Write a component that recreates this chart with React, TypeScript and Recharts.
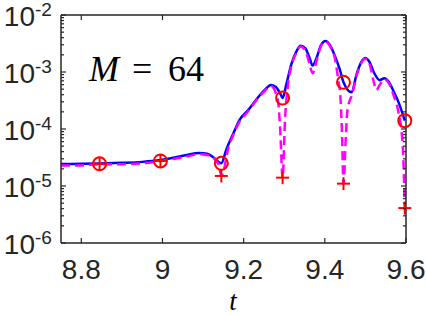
import React from 'react';
import { ComposedChart, Line, XAxis, YAxis } from 'recharts';

const blueT = [8.75, 8.8, 8.845, 8.9, 8.95, 8.995, 9.03, 9.06, 9.09, 9.11, 9.125, 9.145, 9.157, 9.175, 9.19, 9.21, 9.23, 9.25, 9.268, 9.28, 9.29, 9.296, 9.305, 9.318, 9.33, 9.34, 9.352, 9.362, 9.37, 9.38, 9.39, 9.402, 9.412, 9.425, 9.437, 9.446, 9.466, 9.478, 9.49, 9.5, 9.51, 9.522, 9.535, 9.547, 9.557, 9.57, 9.582, 9.597];
const blueV = [2.42e-5, 2.45e-5, 2.48e-5, 2.55e-5, 2.65e-5, 2.85e-5, 3.15e-5, 3.5e-5, 3.8e-5, 3.7e-5, 3.2e-5, 2.5e-5, 4.3e-5, 8.5e-5, 1.45e-4, 2.1e-4, 3.2e-4, 4.7e-4, 5.9e-4, 5.4e-4, 4.2e-4, 3.5e-4, 6e-4, 1.4e-3, 2.3e-3, 2.9e-3, 2.6e-3, 1.8e-3, 1.3e-3, 1.8e-3, 2.9e-3, 3.5e-3, 3.0e-3, 1.9e-3, 1.1e-3, 6.6e-4, 4.4e-4, 9e-4, 1.5e-3, 1.76e-3, 1.5e-3, 9.5e-4, 7.2e-4, 7.8e-4, 6.8e-4, 4.5e-4, 2.9e-4, 1.4e-4];

const magT = [8.75, 8.8, 8.845, 8.9, 8.95, 8.995, 9.03, 9.06, 9.09, 9.11, 9.13, 9.14, 9.145, 9.152, 9.16, 9.175, 9.19, 9.21, 9.23, 9.25, 9.268, 9.278, 9.285, 9.29, 9.296, 9.302, 9.308, 9.318, 9.33, 9.34, 9.352, 9.362, 9.37, 9.38, 9.39, 9.402, 9.412, 9.425, 9.434, 9.438, 9.442, 9.446, 9.452, 9.456, 9.468, 9.478, 9.49, 9.5, 9.51, 9.52, 9.527, 9.535, 9.548, 9.558, 9.57, 9.58, 9.592, 9.597];
const magV = [2.3e-5, 2.3e-5, 2.4e-5, 2.4e-5, 2.5e-5, 2.75e-5, 3.0e-5, 3.3e-5, 3.6e-5, 3.5e-5, 2.9e-5, 2.2e-5, 1.5e-5, 2.0e-5, 4.0e-5, 8e-5, 1.35e-4, 2.0e-4, 3.1e-4, 4.5e-4, 5.6e-4, 4.5e-4, 3e-4, 1e-4, 1.4e-5, 1.5e-4, 5e-4, 1.3e-3, 2.2e-3, 2.8e-3, 2.4e-3, 1.4e-3, 9.5e-4, 1.6e-3, 2.8e-3, 3.4e-3, 2.9e-3, 1.7e-3, 6.6e-4, 4e-4, 1e-4, 1.1e-5, 8e-5, 2.2e-4, 4.2e-4, 8.5e-4, 1.45e-3, 1.7e-3, 1.4e-3, 7e-4, 4.8e-4, 5.9e-4, 7.4e-4, 6.3e-4, 3.8e-4, 2.2e-4, 5e-5, 4.1e-6];

const sampleT = [8.845, 8.995, 9.145, 9.296, 9.446, 9.597];
const circleV = [2.45e-5, 2.75e-5, 2.5e-5, 3.5e-4, 6.6e-4, 1.4e-4];
const plusV = [2.45e-5, 2.75e-5, 1.5e-5, 1.4e-5, 1.1e-5, 4.1e-6];

const xTicks = [8.8, 9, 9.2, 9.4, 9.6];
const xTickLabels = ['8.8', '9', '9.2', '9.4', '9.6'];
const yDecades = [-6, -5, -4, -3, -2];

const blueData = blueT.map((t, i) => ({ t, v: blueV[i] }));
const magData = magT.map((t, i) => ({ t, v: magV[i] }));
const circleData = sampleT.map((t, i) => ({ t, v: circleV[i] }));
const plusData = sampleT.map((t, i) => ({ t, v: plusV[i] }));

const yTicks: number[] = [];
for (let k = 0; k < yDecades.length - 1; k++) {
  for (let m = 1; m <= 9; m++) yTicks.push(m * Math.pow(10, yDecades[k]));
}
yTicks.push(Math.pow(10, yDecades[yDecades.length - 1]));

const AX = '#262626';
const FONT = '"Liberation Sans", Arial, Helvetica, sans-serif';
const SERIF = '"Liberation Serif", "Times New Roman", serif';

const isMajor = (v: number) => {
  const lg = Math.log10(v);
  return Math.abs(lg - Math.round(lg)) < 1e-6;
};

const BottomTick = (props: any) => {
  const { x, y, payload } = props;
  const idx = xTicks.indexOf(payload.value);
  const label = idx >= 0 ? xTickLabels[idx] : String(payload.value);
  return (
    <g>
      <line x1={x} x2={x} y1={y} y2={y - 5} stroke={AX} strokeWidth={1.2} />
      <text x={x} y={y + 36} textAnchor="middle" fontSize={28} fontFamily={FONT} fill={AX}>{label}</text>
    </g>
  );
};

const TopTick = (props: any) => {
  const { x, y } = props;
  return <line x1={x} x2={x} y1={y} y2={y + 5} stroke={AX} strokeWidth={1.2} />;
};

const LeftTick = (props: any) => {
  const { x, y, payload } = props;
  const v = payload.value;
  const major = isMajor(v);
  const e = Math.round(Math.log10(v));
  return (
    <g>
      <line x1={x} x2={x + (major ? 5 : 3)} y1={y} y2={y} stroke={AX} strokeWidth={1.2} />
      {major && (
        <g>
          <text x={35} y={y + 11} textAnchor="end" fontSize={28} fontFamily={FONT} fill={AX}>10</text>
          <text x={35} y={y + 1} textAnchor="start" fontSize={19} fontFamily={FONT} fill={AX}>{String(e)}</text>
        </g>
      )}
    </g>
  );
};

const RightTick = (props: any) => {
  const { x, y, payload } = props;
  const major = isMajor(payload.value);
  return <line x1={x} x2={x - (major ? 5 : 3)} y1={y} y2={y} stroke={AX} strokeWidth={1.2} />;
};

const CircleDot = (props: any) => {
  const { cx, cy, index } = props;
  if (cx == null || cy == null) return <g key={index} />;
  return <circle key={index} cx={cx} cy={cy} r={6.5} fill="none" stroke="#ff0000" strokeWidth={2} />;
};

const PlusDot = (props: any) => {
  const { cx, cy, index } = props;
  if (cx == null || cy == null) return <g key={index} />;
  return (
    <g key={index}>
      <line x1={cx - 6.5} x2={cx + 6.5} y1={cy} y2={cy} stroke="#ff0000" strokeWidth={2} />
      <line x1={cx} x2={cx} y1={cy - 6.5} y2={cy + 6.5} stroke="#ff0000" strokeWidth={2} />
    </g>
  );
};

export default function App() {
  return (
    <div style={{ position: 'absolute', left: 0, top: 0, width: 426, height: 316, background: '#fff' }}>
      <ComposedChart width={426} height={316} margin={{ top: 0, right: 0, bottom: 0, left: 0 }}>
        <XAxis xAxisId="b" dataKey="t" type="number" domain={[8.75, 9.6]} ticks={xTicks} interval={0}
          orientation="bottom" height={73} tickSize={0} tickMargin={0} tickLine={false}
          axisLine={{ stroke: AX, strokeWidth: 1.5 }} tick={<BottomTick />} />
        <XAxis xAxisId="top" dataKey="t" type="number" domain={[8.75, 9.6]} ticks={xTicks} interval={0}
          orientation="top" height={15} tickSize={0} tickMargin={0} tickLine={false} allowDataOverflow
          axisLine={{ stroke: AX, strokeWidth: 1.5 }} tick={<TopTick />} />
        <YAxis yAxisId="l" type="number" scale="log" domain={[1e-6, 1e-2]} ticks={yTicks} interval={0}
          orientation="left" width={61} tickSize={0} tickMargin={0} tickLine={false}
          axisLine={{ stroke: AX, strokeWidth: 1.5 }} tick={<LeftTick />} />
        <YAxis yAxisId="r" type="number" scale="log" domain={[1e-6, 1e-2]} ticks={yTicks} interval={0}
          orientation="right" width={20} tickSize={0} tickMargin={0} tickLine={false} allowDataOverflow
          axisLine={{ stroke: AX, strokeWidth: 1.5 }} tick={<RightTick />} />
        <Line xAxisId="b" yAxisId="l" data={blueData} dataKey="v" type="monotone" stroke="#0000ff"
          strokeWidth={2.5} dot={false} activeDot={false} isAnimationActive={false} />
        <Line xAxisId="b" yAxisId="l" data={magData} dataKey="v" type="monotone" stroke="#ff00ff"
          strokeWidth={2.5} strokeDasharray="9 5" dot={false} activeDot={false} isAnimationActive={false} />
        <Line xAxisId="b" yAxisId="l" data={circleData} dataKey="v" stroke="none" strokeWidth={0}
          dot={<CircleDot />} activeDot={false} isAnimationActive={false} />
        <Line xAxisId="b" yAxisId="l" data={plusData} dataKey="v" stroke="none" strokeWidth={0}
          dot={<PlusDot />} activeDot={false} isAnimationActive={false} />
      </ComposedChart>
      <svg width={426} height={316} style={{ position: 'absolute', left: 0, top: 0, pointerEvents: 'none' }}>
        <text x={89} y={81} fontSize={36} fontFamily={SERIF} fontStyle="italic" fill="#000">M</text>
        <text x={132} y={81} fontSize={36} fontFamily={SERIF} fill="#000">=</text>
        <text x={168} y={81} fontSize={36} fontFamily={SERIF} fill="#000">64</text>
        <text x={233} y={310} textAnchor="middle" fontSize={27} fontFamily={SERIF} fontStyle="italic" fill="#000">t</text>
      </svg>
    </div>
  );
}
